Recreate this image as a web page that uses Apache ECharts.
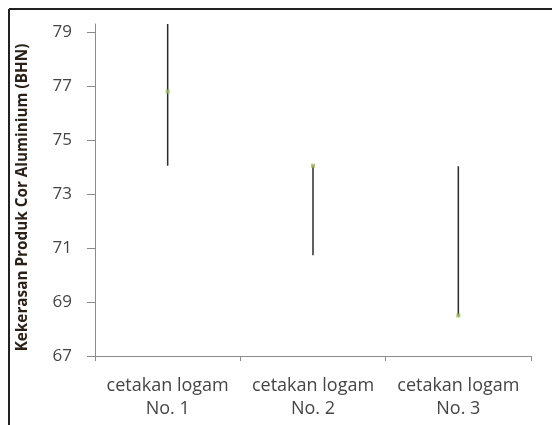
<!DOCTYPE html>
<html>
<head>
<meta charset="utf-8">
<script src="https://cdn.jsdelivr.net/npm/echarts@6/dist/echarts.min.js"></script>
<style>
html,body{margin:0;padding:0;background:#fff;}
#c{width:552px;height:425px;}
</style>
</head>
<body>
<div id="c"></div>
<script>
var categories = ['cetakan logam\nNo. 1', 'cetakan logam\nNo. 2', 'cetakan logam\nNo. 3'];
var highValues = [79.3, 74.05, 74.03];
var lowValues = [74.05, 70.73, 68.48];
var closeValues = [76.8, 74.05, 68.5];
var yTicks = [67, 69, 71, 73, 75, 77, 79];
var yTitle = 'Kekerasan Produk Cor Aluminium (BHN)';

var chart = echarts.init(document.getElementById('c'), null, {renderer: 'canvas'});
var rangeData = categories.map(function (c, i) { return [i, lowValues[i], highValues[i]]; });
var closeData = categories.map(function (c, i) { return [i, closeValues[i]]; });
var font = '"Open Sans", Lato, sans-serif';

chart.setOption({
  animation: false,
  backgroundColor: '#fff',
  graphic: [
    {type: 'line', shape: {x1: 9, y1: 9, x2: 552, y2: 9}, style: {stroke: '#222', lineWidth: 2}},
    {type: 'line', shape: {x1: 9, y1: 9, x2: 9, y2: 425}, style: {stroke: '#222', lineWidth: 2}}
  ],
  grid: {left: 95, right: 21, top: 24, bottom: 69},
  xAxis: {
    type: 'category',
    data: categories,
    boundaryGap: true,
    axisLine: {lineStyle: {color: '#8c8c8c', width: 1}},
    axisTick: {show: true, length: 5, lineStyle: {color: '#8c8c8c'}},
    axisLabel: {color: '#454545', fontSize: 18, fontFamily: font, lineHeight: 23, margin: 18, interval: 0},
    splitLine: {show: false}
  },
  yAxis: {
    type: 'value',
    min: 67,
    max: 79.3,
    name: yTitle,
    nameLocation: 'middle',
    nameGap: 65,
    nameRotate: 90,
    nameTextStyle: {color: '#2a2218', fontSize: 15.3, fontWeight: 'bold', fontFamily: font, padding: [0, 15, 0, 0]},
    axisLine: {show: true, lineStyle: {color: '#8c8c8c', width: 1}},
    axisTick: {show: true, length: 8, inside: false, customValues: yTicks, lineStyle: {color: '#8c8c8c'}},
    axisLabel: {color: '#454545', fontSize: 17, fontFamily: font, margin: 23, customValues: yTicks},
    splitLine: {show: false}
  },
  series: [
    {
      type: 'custom',
      data: rangeData,
      encode: {x: 0, y: [1, 2]},
      renderItem: function (params, api) {
        var x = api.value(0);
        var p1 = api.coord([x, api.value(1)]);
        var p2 = api.coord([x, api.value(2)]);
        return {
          type: 'line',
          shape: {x1: p1[0], y1: p1[1], x2: p2[0], y2: p2[1]},
          style: {stroke: '#2b2b2b', lineWidth: 1.5}
        };
      },
      clip: false,
      z: 2
    },
    {
      type: 'scatter',
      data: closeData,
      symbol: 'rect',
      symbolSize: 4,
      itemStyle: {color: '#9bbb59'},
      z: 3
    }
  ]
});
</script>
</body>
</html>
